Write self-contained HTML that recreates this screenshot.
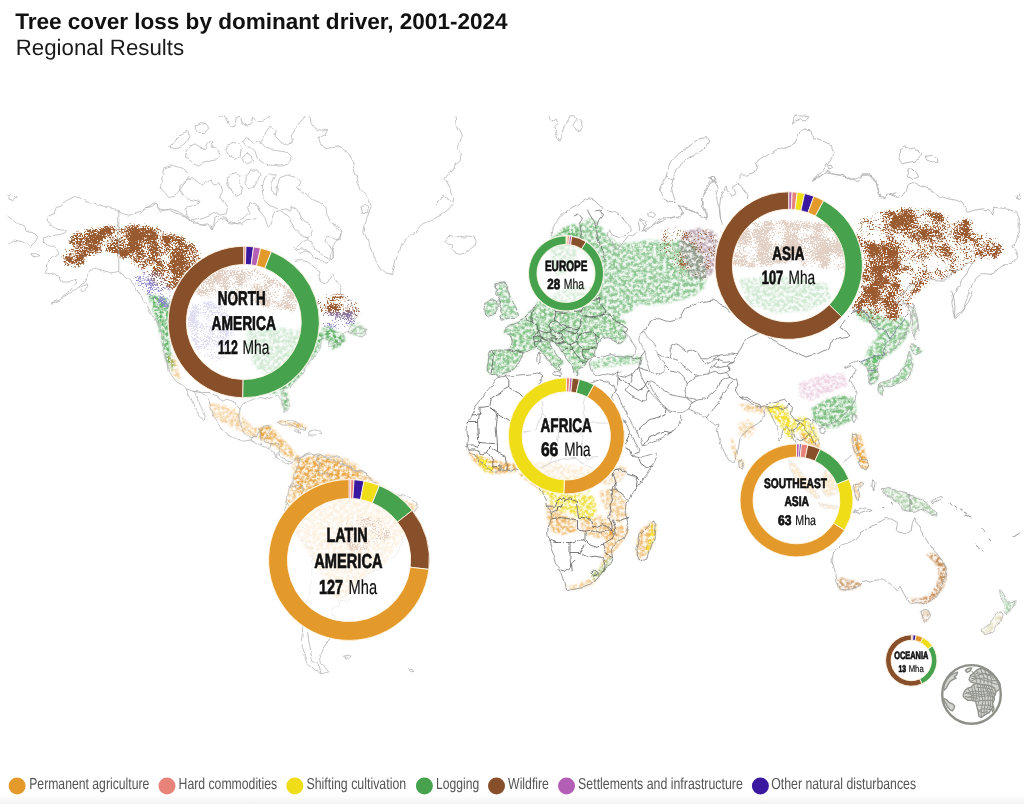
<!DOCTYPE html>
<html lang="en"><head><meta charset="utf-8"><title>Tree cover loss by dominant driver, 2001-2024</title>
<style>
html,body{margin:0;padding:0;background:#fff}
body{width:1024px;height:804px;overflow:hidden;position:relative;font-family:"Liberation Sans",sans-serif}
svg{position:absolute;left:0;top:0;display:block}
text{text-rendering:geometricPrecision}
text{font-family:"Liberation Sans",sans-serif}
</style></head><body>
<svg width="1024" height="804" viewBox="0 0 1024 804">
<defs>
<filter id="speck" x="0" y="0" width="1024" height="804" filterUnits="userSpaceOnUse" color-interpolation-filters="sRGB">
<feGaussianBlur in="SourceGraphic" stdDeviation="1.6" result="b"/>
<feTurbulence type="fractalNoise" baseFrequency="0.65" numOctaves="2" seed="7" result="t1"/>
<feTurbulence type="fractalNoise" baseFrequency="0.07" numOctaves="3" seed="3" result="t2"/>
<feComposite in="t1" in2="t2" operator="arithmetic" k1="0" k2="0.55" k3="0.45" k4="0" result="t"/>
<feColorMatrix in="t" type="matrix" values="0 0 0 0 0 0 0 0 0 0 0 0 0 0 0 3.6 0 0 0 -1.3" result="n"/>
<feComposite in="b" in2="n" operator="arithmetic" k1="0" k2="3" k3="3" k4="-3" result="m"/>
<feColorMatrix in="b" type="matrix" values="1 0 0 0 0 0 1 0 0 0 0 0 1 0 0 0 0 0 60 0" result="solid"/>
<feComposite in="solid" in2="m" operator="in"/>
</filter>
<filter id="mott" x="0" y="0" width="1024" height="804" filterUnits="userSpaceOnUse" color-interpolation-filters="sRGB">
<feGaussianBlur in="SourceGraphic" stdDeviation="1.3" result="b"/>
<feTurbulence type="fractalNoise" baseFrequency="0.3" numOctaves="3" seed="11" result="t"/>
<feColorMatrix in="t" type="matrix" values="0 0 0 0 1 0 0 0 0 1 0 0 0 0 1 3 0 0 0 -1" result="n"/>
<feComposite in="b" in2="n" operator="arithmetic" k1="1.5" k2="0.25" k3="0" k4="0"/>
</filter>
<filter id="wig" x="0" y="90" width="1024" height="640" filterUnits="userSpaceOnUse" color-interpolation-filters="sRGB">
<feTurbulence type="fractalNoise" baseFrequency="0.09" numOctaves="3" seed="5" result="w"/>
<feDisplacementMap in="SourceGraphic" in2="w" scale="4.5" xChannelSelector="R" yChannelSelector="G"/>
</filter>
<linearGradient id="bg" x1="0" y1="0" x2="0" y2="1"><stop offset="0" stop-color="#fff"/><stop offset="1" stop-color="#f3f3f3"/></linearGradient></defs>
<rect width="1024" height="804" fill="#fff"/>
<rect y="794" width="1024" height="10" fill="url(#bg)"/>

<g filter="url(#mott)">
<polygon points="148.1,294.6 157.2,295.4 169.2,299.4 173.1,315.3 169.2,331.2 170.3,351.1 175.1,367.1 171.9,371.0 165.2,359.1 161.2,339.2 157.2,321.3 151.2,307.4" fill="#5aae60" fill-opacity="0.55"/>
<polygon points="207.0,402.9 222.9,404.9 234.8,408.9 244.8,418.8 254.7,428.8 262.7,426.8 270.6,430.7 268.7,438.7 258.7,438.7 246.8,434.7 234.8,428.8 222.9,422.8 212.9,414.8" fill="#e8a13a" fill-opacity="0.27"/>
<polygon points="254.7,428.8 270.6,424.8 278.6,434.7 286.6,442.7 296.5,454.6 302.5,458.6 298.5,462.6 286.6,456.6 274.6,446.7 262.7,440.7" fill="#e8a13a" fill-opacity="0.42"/>
<polygon points="292.5,464.6 302.5,458.6 314.4,454.6 330.3,454.6 346.3,458.6 358.2,464.6 360.2,474.5 350.2,482.5 338.3,486.5 326.4,494.4 310.4,498.4 298.5,494.4 292.5,482.5" fill="#e8a13a" fill-opacity="0.30"/>
<polygon points="167.2,355.1 175.1,357.1 179.1,371.0 181.1,379.0 175.1,379.0 170.3,367.1" fill="#e8a13a" fill-opacity="0.30"/>
<polygon points="278.6,420.8 302.5,423.6 308.5,428.8 294.5,427.6 278.6,423.6" fill="#e8a13a" fill-opacity="0.45"/>
<polygon points="246.8,331.2 278.6,327.3 302.5,331.2 310.4,351.1 294.5,371.0 270.6,379.0 254.7,367.1 246.8,347.2" fill="#5aae60" fill-opacity="0.60"/>
<polygon points="569.5,235.7 579.4,223.8 591.3,217.8 599.3,223.8 607.3,235.7 619.2,243.7 635.1,241.7 651.0,239.7 667.0,241.7 682.9,239.7 694.8,243.7 702.8,255.6 706.8,271.5 704.8,287.5 694.8,295.4 682.9,299.4 667.0,303.4 651.0,305.4 639.1,303.4 631.1,311.3 619.2,317.3 607.3,315.3 603.3,303.4 601.3,287.5 597.3,271.5 587.4,259.6 577.4,247.7" fill="#5aae60" fill-opacity="0.38"/>
<polygon points="589.4,363.1 607.3,357.1 627.2,355.1 643.1,357.1 641.1,363.1 623.2,365.1 607.3,367.1 593.3,369.1" fill="#5aae60" fill-opacity="0.35"/>
<polygon points="549.6,239.7 563.5,227.8 575.4,223.8 579.4,239.7 575.4,259.6 565.5,273.5 555.5,275.5 551.5,259.6" fill="#5aae60" fill-opacity="0.50"/>
<polygon points="682.9,231.7 698.8,227.8 714.7,231.7 720.7,247.7 716.7,269.6 704.8,279.5 690.8,277.5 682.9,261.6 678.9,245.7" fill="#a88a9c" fill-opacity="0.42"/>
<polygon points="738.6,402.9 754.5,404.9 770.4,406.9 772.4,412.8 758.5,412.8 744.6,410.8" fill="#e8a13a" fill-opacity="0.30"/>
<polygon points="738.6,422.8 750.5,418.8 756.5,428.8 748.6,438.7 738.6,434.7" fill="#e8a13a" fill-opacity="0.22"/>
<polygon points="730.6,434.7 734.6,442.7 738.6,458.6 735.4,460.6 731.4,446.7" fill="#e8a13a" fill-opacity="0.30"/>
<polygon points="738.6,458.6 743.4,458.6 744.2,466.6 739.4,467.4" fill="#e8a13a" fill-opacity="0.30"/>
<polygon points="854.8,311.2 870.8,309.3 886.7,319.2 902.6,317.2 910.6,323.2 908.6,335.1 898.6,347.1 886.7,357.0 874.7,363.0 864.8,359.0 868.8,347.1 878.7,335.1 870.8,323.2 858.8,319.2" fill="#5aae60" fill-opacity="0.40"/>
<polygon points="811.1,408.8 827.0,398.8 842.9,394.8 854.8,398.8 856.8,410.7 850.9,420.7 838.9,426.7 825.0,428.7 815.0,422.7" fill="#5aae60" fill-opacity="0.45"/>
<polygon points="799.1,382.9 823.0,374.9 842.9,372.9 848.9,384.9 829.0,392.8 811.1,400.8 799.1,396.8" fill="#d79ac0" fill-opacity="0.25"/>
<polygon points="765.3,406.8 779.2,402.8 787.2,408.8 791.2,422.7 795.1,434.6 791.2,440.6 783.2,430.6 777.2,420.7 769.3,414.7" fill="#eedb2a" fill-opacity="0.60"/>
<polygon points="791.2,418.7 805.1,416.7 815.0,426.7 819.0,440.6 811.1,444.6 803.1,434.6 793.2,428.7" fill="#eedb2a" fill-opacity="0.50"/>
<polygon points="799.1,430.6 811.1,438.6 819.0,442.6 821.0,454.5 815.0,456.5 807.9,446.6 801.1,438.6" fill="#e8a13a" fill-opacity="0.40"/>
<polygon points="852.9,434.6 860.8,434.6 864.8,450.5 867.6,466.5 862.0,468.5 856.8,454.5" fill="#e8a13a" fill-opacity="0.45"/>
<polygon points="739.4,279.4 767.3,275.4 799.1,277.4 827.0,283.4 831.0,299.3 807.1,311.2 775.2,313.2 747.4,303.3" fill="#5aae60" fill-opacity="0.60"/>
<polygon points="467.9,451.7 479.8,455.7 491.7,459.7 503.7,461.7 515.6,463.7 517.6,471.6 505.7,473.6 491.7,473.6 481.8,467.7 473.8,461.7" fill="#e8a13a" fill-opacity="0.45"/>
<polygon points="475.0,455.7 483.8,457.7 491.7,463.7 493.7,473.6 485.8,472.4 479.0,465.7" fill="#eedb2a" fill-opacity="0.55"/>
<polygon points="547.5,493.5 563.4,491.5 579.3,493.5 593.2,495.5 597.2,507.5 593.2,519.4 579.3,519.4 571.3,513.4 559.4,511.4 551.4,505.5" fill="#eedb2a" fill-opacity="0.50"/>
<polygon points="545.5,503.5 559.4,511.4 575.3,519.4 577.3,531.3 563.4,535.3 551.4,531.3 547.5,519.4" fill="#e8a13a" fill-opacity="0.42"/>
<polygon points="579.3,519.4 599.2,515.4 611.1,519.4 615.1,531.3 607.2,539.3 595.2,537.3 583.3,533.3" fill="#e8a13a" fill-opacity="0.36"/>
<polygon points="599.2,491.5 615.1,487.6 625.1,499.5 627.1,515.4 619.1,523.4 611.1,517.4 603.2,505.5" fill="#e8a13a" fill-opacity="0.30"/>
<polygon points="607.2,531.3 623.1,523.4 629.1,531.3 621.1,543.3 611.1,555.2 603.2,559.2 605.2,547.3" fill="#e8a13a" fill-opacity="0.36"/>
<polygon points="597.2,471.6 615.1,463.7 627.1,467.7 623.1,479.6 609.2,485.6 599.2,483.6" fill="#e8a13a" fill-opacity="0.20"/>
<polygon points="639.0,531.3 650.9,521.4 656.9,525.4 654.9,537.3 649.0,551.2 641.0,559.2 635.8,553.2 637.0,541.3" fill="#e8a13a" fill-opacity="0.38"/>
<polygon points="650.1,523.4 656.9,525.4 654.9,537.3 649.0,551.2 645.0,553.2 649.0,537.3" fill="#eedb2a" fill-opacity="0.50"/>
<polygon points="563.4,587.1 575.3,590.2 591.2,585.1 601.2,575.1 609.2,563.2 611.9,553.2 607.2,553.2 599.2,567.2 589.3,579.1 575.3,585.1" fill="#e8a13a" fill-opacity="0.30"/>
<polygon points="591.2,575.1 601.2,567.2 609.2,557.2 611.9,559.2 603.2,573.1 594.4,581.1" fill="#5aae60" fill-opacity="0.30"/>
<polygon points="519.6,459.7 559.4,463.7 591.2,467.7 599.2,483.6 571.3,491.5 539.5,489.6 519.6,475.6" fill="#e8a13a" fill-opacity="0.40"/>
<polygon points="539.5,479.6 575.3,477.6 591.2,491.5 559.4,495.5 539.5,493.5" fill="#eedb2a" fill-opacity="0.40"/>
<polygon points="926.2,555.0 932.5,552.5 940.0,557.5 946.2,566.2 947.0,577.5 943.8,586.2 938.8,593.8 932.5,600.0 925.0,603.8 917.5,602.5 912.5,602.5 911.2,598.8 920.0,598.8 928.8,595.0 935.0,587.5 938.8,578.8 938.8,570.0 933.8,561.2" fill="#c48a52" fill-opacity="0.55"/>
<polygon points="837.0,580.0 841.2,577.5 850.0,580.0 860.0,581.2 861.2,586.2 852.5,589.5 843.8,590.5 838.0,588.8" fill="#c48a52" fill-opacity="0.45"/>
<polygon points="921.2,611.2 926.2,610.5 930.0,612.5 928.8,618.8 925.0,622.5 922.0,618.8" fill="#c48a52" fill-opacity="0.30"/>
<polygon points="882.5,488.8 888.8,487.5 895.0,490.0 901.2,492.5 907.5,493.8 913.8,496.2 920.0,498.8 926.2,502.5 931.2,507.5 936.2,512.5 937.5,516.2 931.2,515.0 925.0,511.2 920.0,508.8 915.0,511.2 908.8,511.2 902.5,510.0 900.0,505.0 895.0,501.2 890.0,497.5 885.0,493.8" fill="#9cc597" fill-opacity="0.45"/>
<polygon points="855.0,483.8 861.2,482.5 865.0,483.8 860.0,486.2 857.0,490.0 860.0,496.2 857.5,501.2 855.0,495.0 853.8,488.8" fill="#e8a13a" fill-opacity="0.35"/>
<polygon points="852.5,435.0 857.0,433.8 858.8,440.0 857.5,446.2 861.2,451.2 865.0,455.0 867.5,460.0 870.0,466.2 866.2,470.0 862.5,467.5 860.0,461.2 856.2,456.2 853.0,448.8 851.2,441.2" fill="#e8a13a" fill-opacity="0.35"/>
<polygon points="788.8,460.0 795.0,465.0 802.5,473.8 810.0,483.8 816.2,492.5 820.0,497.5 816.2,498.8 810.0,493.8 802.5,486.2 796.2,478.8 791.2,470.0" fill="#e8a13a" fill-opacity="0.75"/>
<polygon points="825.0,471.2 831.2,467.5 837.5,470.0 840.0,477.5 838.8,486.2 835.0,493.8 828.8,496.2 823.8,492.5 821.2,486.2 822.5,478.8" fill="#e8a13a" fill-opacity="0.75"/>
<polygon points="817.5,502.5 825.0,503.8 832.5,505.5 838.8,507.5 836.2,509.5 827.5,508.0 820.0,506.2" fill="#e8a13a" fill-opacity="0.60"/>
<polygon points="999.5,590.2 1002.4,593.1 1004.5,596.6 1006.6,600.1 1008.7,602.2 1012.2,601.5 1015.3,600.8 1014.3,604.3 1011.5,607.8 1009.4,611.3 1007.3,614.9 1005.2,613.4 1004.5,609.9 1005.2,606.4 1003.8,602.2 1002.4,598.0 1000.3,593.8" fill="#5aae60" fill-opacity="0.30"/>
<polygon points="1001.0,612.0 1003.1,614.1 1002.4,617.7 1000.3,621.2 997.4,624.7 994.6,628.2 992.5,631.0 989.7,633.1 986.2,634.5 983.4,633.8 982.0,631.0 984.1,628.2 987.6,625.4 991.1,622.6 993.9,619.1 996.0,615.6 998.1,612.7" fill="#d6cf98" fill-opacity="0.35"/>
<polygon points="300.0,458.0 330.0,457.0 360.0,470.0 395.0,495.0 417.0,506.0 405.0,535.0 385.0,562.0 362.0,580.0 345.0,598.0 335.0,600.0 325.0,580.0 312.0,560.0 300.0,540.0 288.0,520.0 286.0,500.0 295.0,475.0" fill="#e8a13a" fill-opacity="0.32"/>
<polygon points="270.0,395.0 282.0,391.0 290.0,386.0 296.0,380.0 302.0,374.0 305.0,367.0 310.0,361.0 315.0,355.0 319.0,349.0 321.0,342.0 324.0,337.0 318.0,330.0 300.0,335.0 290.0,350.0 280.0,370.0" fill="#5aae60" fill-opacity="0.55"/>
<polygon points="322.0,328.0 332.0,326.0 336.0,332.0 343.0,334.0 346.0,340.0 340.0,346.0 332.0,350.0 330.0,342.0 324.0,340.0" fill="#5aae60" fill-opacity="0.55"/>
<polygon points="349.0,324.0 360.0,323.0 366.0,330.0 362.0,337.0 352.0,335.0" fill="#5aae60" fill-opacity="0.30"/>
<polygon points="281.0,392.0 287.0,390.0 289.0,400.0 288.0,410.0 285.0,412.0 282.0,404.0" fill="#5aae60" fill-opacity="0.45"/>
<polygon points="909.2,352.5 911.8,357.5 913.0,363.8 911.8,370.0 909.2,376.2 904.2,380.0 899.2,383.0 893.0,385.0 888.0,386.2 884.2,387.5 880.5,386.2 878.0,385.0 880.0,383.0 885.5,381.2 891.8,379.5 896.8,376.2 900.5,371.2 904.2,366.2 906.8,360.0 908.0,355.0" fill="#5aae60" fill-opacity="0.40"/>
<polygon points="911.8,343.8 915.5,345.5 920.5,348.8 923.0,351.2 919.2,353.8 915.5,355.0 912.5,352.5 911.0,348.0" fill="#5aae60" fill-opacity="0.40"/>
<polygon points="878.5,386.2 881.8,387.5 883.5,391.2 881.8,394.5 879.2,393.0 878.0,389.5" fill="#5aae60" fill-opacity="0.35"/>
<polygon points="860.5,362.5 868.0,358.8 875.5,356.2 884.2,353.8 880.5,357.5 878.0,362.5 876.8,367.5 878.0,373.8 877.5,380.0 874.2,383.0 870.5,383.8 868.5,378.8 869.2,372.5 866.8,367.5 864.2,365.0" fill="#5aae60" fill-opacity="0.50"/>
<polygon points="913.0,305.0 915.5,311.2 917.5,318.8 918.0,326.2 916.0,332.5 914.2,338.8 913.0,331.2 912.5,322.5 912.0,313.8" fill="#5aae60" fill-opacity="0.25"/>
<polygon points="537.4,301.3 534.3,306.8 531.9,310.0 528.8,312.3 525.6,315.5 523.3,318.6 520.2,320.2 517.0,322.5 513.1,324.1 510.0,324.9 506.8,327.2 503.7,329.6 502.9,331.9 505.3,333.5 509.2,334.3 511.1,337.4 512.3,341.3 511.5,345.2 510.4,349.2 506.1,349.9 500.6,349.9 495.1,350.3 490.4,350.7 488.5,353.1 488.8,357.8 488.0,362.5 487.2,367.2 488.0,371.9 491.2,374.2 495.1,373.4 498.2,376.6 500.6,375.3 503.7,373.4 508.4,371.9 512.3,370.3 515.5,367.2 517.8,363.3 520.2,359.3 522.5,356.2 523.0,353.1 525.6,351.5 528.8,351.5 531.9,349.9 534.3,348.4 536.6,347.6 539.7,349.9 542.9,353.1 546.0,357.0 549.2,360.9 552.3,364.8 555.4,368.0 557.8,370.3 560.1,371.9 560.9,369.5 559.3,366.4 561.7,364.8 564.0,362.5 562.5,360.1 559.3,357.8 556.2,354.6 553.9,350.7 551.5,346.8 550.7,342.9 553.1,341.3 555.4,342.9 557.8,346.8 560.9,350.7 564.0,354.6 567.2,358.6 569.5,361.7 571.9,364.0 572.7,368.0 574.2,371.9 576.6,375.0 578.9,373.4 578.2,369.5 580.5,368.0 582.9,366.4 585.2,364.0 586.8,361.7 588.3,359.3 591.5,357.8 593.8,357.0 595.4,353.1 596.2,348.4 597.7,343.7 600.1,339.7 603.2,337.4 607.9,336.6 611.8,338.2 614.2,341.3 617.3,343.7 621.3,342.9 624.4,339.7 626.7,335.8 625.2,331.9 622.8,329.6 626.7,321.7 618.9,317.0 607.0,315.0 602.9,302.9 601.0,286.9 570.3,285.7 537.4,301.3" fill="#5aae60" fill-opacity="0.42"/>
<polygon points="495.1,284.1 499.0,282.5 503.7,281.8 507.6,285.7 506.8,290.4 509.2,295.1 512.3,299.8 514.7,305.3 517.0,310.0 518.6,314.7 515.5,317.0 510.0,317.8 505.3,319.4 501.3,320.2 499.8,317.0 503.7,314.7 500.6,311.5 501.3,307.6 499.0,303.7 499.8,299.0 496.6,295.1 497.4,290.4 495.1,287.2 495.1,284.1" fill="#5aae60" fill-opacity="0.38"/>
<polygon points="485.7,303.7 488.8,300.6 493.5,299.8 496.6,301.3 497.4,306.1 496.6,310.8 493.5,314.7 488.8,316.2 485.7,313.9 484.9,309.2 485.7,303.7" fill="#5aae60" fill-opacity="0.38"/>
</g>
<g filter="url(#speck)">
<polygon points="61.7,257.6 69.7,239.7 87.6,229.8 115.4,225.8 139.3,223.8 159.2,227.8 179.1,235.7 195.0,245.7 201.0,259.6 191.0,271.5 181.1,279.5 175.1,291.4 167.2,287.5 159.2,275.5 151.2,269.6 139.3,263.6 123.4,255.6 111.4,251.6 99.5,251.6 87.6,255.6 75.6,263.6 65.7,265.6" fill="#9a5a30" fill-opacity="0.59"/>
<polygon points="316.4,299.4 330.3,293.4 346.3,295.4 358.2,303.4 360.2,315.3 350.2,321.3 334.3,319.3 320.4,315.3" fill="#9a5a30" fill-opacity="0.45"/>
<polygon points="131.3,271.5 159.2,271.5 175.1,295.4 171.1,311.3 151.2,299.4 135.3,283.5" fill="#8f86cf" fill-opacity="0.49"/>
<polygon points="318.4,313.3 354.2,311.3 356.2,325.3 330.3,329.3 318.4,325.3" fill="#8f86cf" fill-opacity="0.54"/>
<polygon points="187.1,271.5 222.9,265.6 258.7,269.6 286.6,283.5 302.5,299.4 294.5,311.3 262.7,307.4 230.8,299.4 199.0,295.4 183.1,287.5" fill="#9a5a30" fill-opacity="0.65"/>
<polygon points="191.0,299.4 222.9,303.4 238.8,331.2 222.9,363.1 199.0,355.1 187.1,327.3" fill="#8f86cf" fill-opacity="0.58"/>
<polygon points="659.0,229.8 682.9,227.8 714.7,231.7 718.7,259.6 698.8,279.5 674.9,271.5 659.0,251.6" fill="#9a5a30" fill-opacity="0.29"/>
<polygon points="862.8,239.6 882.7,245.6 898.6,255.5 902.6,275.4 898.6,291.3 886.7,303.3 870.8,307.3 858.8,299.3 862.8,279.4 864.8,259.5" fill="#9a5a30" fill-opacity="0.71"/>
<polygon points="858.8,219.7 878.7,211.7 902.6,207.8 926.5,209.8 950.4,215.7 970.3,219.7 982.2,227.7 998.1,239.6 1006.1,251.5 994.1,259.5 974.2,261.5 962.3,271.4 942.4,279.4 926.5,283.4 914.5,295.3 910.6,311.2 898.6,319.2 878.7,323.2 862.8,319.2 850.9,311.2 856.8,295.3" fill="#9a5a30" fill-opacity="0.48"/>
<polygon points="878.7,211.7 902.6,207.8 926.5,209.8 950.4,215.7 962.3,227.7 958.3,239.6 934.4,243.6 910.6,239.6 886.7,231.6" fill="#9a5a30" fill-opacity="0.45"/>
<polygon points="723.5,227.7 755.3,219.7 791.2,219.7 831.0,223.7 858.8,235.6 862.8,259.5 846.9,271.4 815.0,267.5 783.2,263.5 751.4,267.5 727.5,263.5 719.5,243.6" fill="#9a5a30" fill-opacity="0.75"/>
<polygon points="340.0,520.0 375.0,515.0 395.0,530.0 380.0,550.0 350.0,552.0" fill="#9a5a30" fill-opacity="0.34"/>
<polygon points="62.5,245.0 75.0,232.5 100.0,226.2 130.0,223.8 160.0,230.0 190.0,240.0 200.0,252.5 200.0,270.0 190.0,282.5 175.0,287.5 160.0,287.5 150.0,277.5 140.0,267.5 125.0,260.0 117.5,255.0 105.0,252.5 95.0,255.0 82.5,265.0 72.5,270.0 63.8,265.0" fill="#9a5a30" fill-opacity="0.43"/>
</g>
<g fill="none" stroke-width=".8" stroke-linejoin="round" stroke-linecap="round" filter="url(#wig)">
<path stroke="#b6b6b6" d="M118.8 211.2L113.8 208.8L107.5 207.5L100.0 205.0L92.5 202.5L86.2 202.0L80.0 198.0L75.0 196.2L70.0 198.8L65.5 201.2L61.2 206.2L56.2 207.5L53.8 213.8L47.5 216.2L47.0 220.0L50.0 223.8L53.8 227.5L60.0 230.0L66.2 230.0L65.5 232.5L60.0 234.5L53.8 235.5L48.8 235.5L43.0 239.5L45.0 243.8L50.0 246.2L55.0 246.2L58.8 250.0L60.0 253.8L56.2 256.2L51.2 257.5L48.0 262.5L47.5 268.8L45.0 273.8L48.8 275.0L53.8 273.8L58.8 275.0L61.2 280.0L62.5 283.0L68.8 283.0L75.0 280.0L76.2 283.0L72.5 287.5L68.8 292.5L63.8 296.2L58.8 298.8L53.8 301.2L51.2 303.0L53.8 302.5L61.2 298.8L68.8 294.2L75.0 290.0L80.0 286.2L83.8 282.5L87.5 276.2L91.2 270.0L95.0 268.0L98.8 270.0L105.0 272.0L111.2 273.8L118.8 272.5L125.0 276.2L130.0 280.0L133.8 285.0L137.5 290.0L141.2 296.2L143.8 302.5L147.5 306.2L150.0 311.2L153.8 317.5L156.2 321.2L158.8 326.2L161.2 332.5L163.0 340.0L164.5 347.5L165.5 355.0L167.0 362.5L168.0 371.0M118.8 211.2L125.0 215.0L130.0 216.2L136.2 212.5L142.5 210.0L148.8 207.5L153.8 203.8L157.5 206.2L160.0 211.2L165.0 210.0L170.0 209.5L175.0 212.5L180.0 214.5L186.2 216.2L191.2 220.0L197.5 223.8L203.8 225.5L210.0 224.5L212.5 230.0L215.0 223.8L218.8 220.0L225.0 218.8L230.0 221.2L236.2 223.8L241.2 223.8L246.2 220.0L251.2 218.8L256.0 217.5M8.8 216.2L13.8 220.0L18.8 223.8L23.8 226.2L25.0 231.2L32.5 232.5L37.5 237.5L33.8 242.5L30.0 247.5L26.2 243.8L21.2 241.2L15.0 240.0L11.2 242.5L8.8 243.8M8.8 195.0L12.5 193.8L16.2 197.0L12.5 200.0L9.2 199.5L8.8 195.0M31.2 253.8L36.2 253.8L40.0 255.5L36.2 257.0L32.0 255.8L31.2 253.8M80.0 287.5L86.2 283.8L88.0 286.2L82.5 292.0L80.0 287.5M140.0 213.8L145.0 208.8L151.2 207.5L155.0 203.8L158.8 208.8L165.0 210.0L171.2 208.8L177.5 211.2L183.8 215.0L190.0 220.0L193.8 223.8L201.2 225.0L207.5 223.8L211.2 230.0L213.8 223.8L215.0 218.8L220.0 216.2L226.2 217.5L228.8 222.5L236.2 223.8L240.0 220.0L245.0 217.5L250.0 212.5L247.5 207.5L251.2 202.5L256.2 205.0L260.0 212.5L265.0 218.8L267.5 225.0L270.0 227.5L272.5 220.0L275.0 212.5L280.0 210.0L286.2 208.8L290.0 211.2L292.5 206.2L297.5 210.0L300.0 217.5L303.8 222.5L310.0 225.0L312.5 230.0L310.0 236.2L305.0 240.0L300.0 243.8L296.2 247.5L300.0 252.5L305.0 250.0L310.0 251.2M180.0 185.0L186.2 180.0L192.5 177.5L196.2 182.5L202.5 186.2L206.2 182.5L211.2 180.0L215.0 185.0L220.0 183.8L222.5 190.0L220.0 197.5L223.8 202.5L227.5 207.5L226.2 213.8L220.0 215.0L215.0 212.5L210.0 215.0L203.8 217.5L197.5 218.8L191.2 220.0L186.2 215.0L185.0 208.8L191.2 206.2L197.5 205.0L200.0 201.2L193.8 200.0L187.5 198.8L182.5 195.0L180.0 190.0L180.0 185.0M165.0 167.5L172.5 165.5L180.0 167.5L186.2 171.2L190.0 175.0L186.2 180.0L182.5 185.0L178.8 191.2L175.0 196.2L168.8 197.5L165.0 192.5L161.2 188.8L162.5 180.0L163.8 173.8L165.0 167.5M170.0 146.2L175.0 140.0L181.2 133.8L187.5 131.2L190.0 136.2L187.5 141.2L183.8 145.0L178.8 148.8L173.8 150.0L170.0 146.2M185.0 153.8L188.8 146.2L193.8 143.8L200.0 147.5L206.2 150.0L207.5 143.8L211.2 141.2L212.5 147.5L217.5 148.8L220.0 153.8L216.2 158.8L210.0 160.0L203.8 162.5L198.8 166.2L193.8 163.8L190.0 160.0L186.2 158.8L185.0 153.8M196.2 125.0L201.2 122.5L206.2 123.8L207.5 128.8L203.8 132.5L198.8 132.5L196.2 128.8L196.2 125.0M226.2 150.0L227.5 143.8L233.8 142.5L238.8 143.8L241.2 150.0L240.0 157.5L236.2 160.0L232.5 156.2L227.5 153.8L226.2 150.0M243.8 156.2L247.5 152.5L251.2 155.0L252.5 161.2L247.5 163.8L243.8 161.2L243.8 156.2M242.5 141.2L245.0 137.5L250.0 138.8L253.8 142.5L257.5 141.2L262.5 143.8L265.0 147.5L271.2 150.0L280.0 151.2L287.5 152.5L291.2 156.2L290.0 162.5L283.8 164.5L276.2 165.5L268.8 165.0L262.5 162.5L257.5 158.8L255.0 151.2L251.2 147.5L246.2 146.2L242.5 141.2M260.0 143.8L263.8 137.5L266.2 131.2L270.0 126.2L276.2 130.0L275.0 136.2L280.0 141.2L287.5 145.0L292.5 141.2L291.2 135.0L295.0 128.8L300.0 122.5L305.0 116.2M220.0 117.5L225.0 116.2L227.5 121.2L231.2 126.2L235.0 125.0L236.2 117.5L240.0 116.2L242.5 122.5L247.5 126.2L251.2 123.8L252.5 117.5L257.5 121.2L263.8 120.0L268.8 116.2M226.2 181.2L230.0 175.0L236.2 172.5L240.0 175.0L238.8 181.2L242.5 186.2L241.2 193.8L236.2 196.2L231.2 191.2L227.5 186.2L226.2 181.2M246.2 175.0L251.2 170.0L257.5 170.0L260.0 175.0L257.5 181.2L253.8 187.5L248.8 190.0L246.2 183.8L246.2 175.0M262.5 185.0L265.0 177.5L270.0 173.8L276.2 173.8L272.5 182.5L271.2 190.0L276.2 195.0L277.5 186.2L280.0 177.5L287.5 175.0L295.0 177.5L300.0 182.5L296.2 187.5L302.5 191.2L307.5 195.0L312.5 200.0L318.8 202.5L325.0 207.5L326.2 215.0L330.0 222.5L336.2 227.5L341.2 232.5L340.0 240.0L333.8 238.8L327.5 235.0L323.8 240.0L328.8 246.2L332.5 252.5L333.8 260.0L327.5 257.5L320.0 253.8L315.0 250.0L312.5 243.8L307.5 240.0L302.5 236.2L296.2 230.0L291.2 222.5L287.5 216.2L281.2 211.2L275.0 207.5L268.8 205.0L263.8 200.0L262.5 192.5L262.5 185.0M310.0 116.2L311.2 123.8L316.2 130.0L322.5 131.2L327.5 130.0L325.0 135.0L318.8 137.5L320.0 143.8L326.2 147.5L335.0 146.2L342.5 148.8L348.8 155.0L352.5 162.5L355.0 171.2L357.5 180.0M357.5 180.0L358.0 183.8L360.0 190.0L365.0 193.8L368.8 198.8L371.2 207.5L367.5 216.2L365.0 225.0L363.8 232.5L367.5 240.0L370.0 247.5L372.5 255.0L376.2 262.5L380.0 268.8L386.2 272.5L391.2 274.2L393.8 270.0L395.5 262.5L397.5 255.0L400.0 246.2L405.0 240.0L410.0 236.2L416.2 231.2L421.2 225.0L426.2 221.2L433.8 218.8L441.2 215.0L447.5 210.0L452.5 205.0L453.8 197.5L451.2 191.2L447.5 185.0L443.8 178.8L447.5 173.8L452.5 170.0L455.0 165.0L460.0 161.2L461.2 153.8L457.5 148.8L460.0 142.5L462.5 136.2L460.0 130.0L456.2 125.0L455.0 116.2M361.2 206.2L365.0 203.8L368.8 207.5L367.5 212.5L362.5 212.5L361.2 206.2M435.0 205.0L440.0 200.0L443.8 196.2L447.5 198.8L450.0 202.5M445.0 241.2L448.8 236.2L453.8 237.5L458.8 236.2L463.8 237.0L468.8 235.0L473.8 236.2L476.2 241.2L475.0 246.2L470.0 250.0L465.0 252.5L460.0 254.5L455.0 253.0L452.0 249.5L452.5 245.0L447.5 243.8L445.0 241.2M548.8 116.2L552.5 121.2L556.2 118.8L557.5 123.8L553.8 127.5L556.2 133.8L560.0 141.2L562.5 135.0L565.0 127.5L567.5 121.2L570.0 116.2L573.8 115.5L576.2 120.0L573.8 125.0L576.2 130.0L580.0 132.5L582.5 127.5L581.2 122.5L577.5 118.8M330.0 222.5L336.2 225.0L341.2 230.0L340.0 236.2L335.0 242.5L331.2 250.0L330.0 260.0M165.0 355.0L167.5 365.0L170.0 372.5L173.8 378.8L177.5 382.5L182.5 385.0L186.2 388.8L188.8 395.0L192.5 402.5L196.2 410.0L200.0 416.2L205.0 420.0L206.2 416.2L202.5 410.0L198.8 402.5L195.5 395.0L193.8 391.2L201.2 392.5L207.5 398.8L210.0 407.5L213.8 416.2L218.8 423.8L222.5 430.0L228.8 435.0L236.2 438.8L243.8 441.2L250.0 440.0L256.2 443.8L262.5 446.2L268.8 447.5L273.8 452.5L276.2 457.5L281.2 460.0L286.2 463.8L291.2 462.5L295.0 460.0L300.0 460.0L297.5 467.5L295.0 475.0L293.8 482.5L290.0 486.2L287.5 492.5L286.2 500.0L288.8 505.0M366.2 330.0L362.5 332.5L355.0 333.8L347.5 331.2L342.5 333.8L345.5 337.5L342.5 340.0L335.0 345.0L328.8 347.5L330.0 341.2L323.8 337.5L321.2 342.5L318.8 348.8L315.0 355.0L310.0 361.2L305.0 367.5L302.5 373.8L296.2 380.0L290.0 386.2L282.5 391.2L285.0 395.0L287.5 400.0L289.2 405.0L287.5 410.0L285.0 412.5L282.5 405.0L281.2 398.8L277.5 395.0L272.5 397.5L266.2 398.8L260.0 397.5L253.8 398.8L247.5 401.2L242.5 405.0L240.0 410.0L238.8 416.2L240.0 423.8L242.5 430.0L245.0 435.0L250.0 437.5L256.2 436.2L260.0 430.0L262.5 426.2L268.8 425.0L270.0 430.0L266.2 436.2L263.8 441.2L266.2 442.5L272.5 442.5L278.8 443.8L280.0 450.0L278.8 455.0L282.5 457.5L287.5 460.0L292.5 461.2L296.2 458.8L300.0 457.5L305.0 453.8L310.0 452.5L313.8 455.0L317.5 453.8L322.5 455.0L327.5 456.2L333.8 456.2L338.8 457.5L342.5 460.0L343.8 465.0L347.5 466.2L352.5 470.0L357.5 471.2L362.5 472.5L367.5 475.0L371.2 477.5M277.5 422.5L282.5 420.5L288.8 420.5L295.0 422.5L301.2 425.5L305.0 428.8L300.0 429.5L295.0 427.5L288.8 425.0L282.5 425.0L277.5 422.5M308.8 431.2L313.8 430.0L318.8 430.5L322.0 433.0L317.5 435.0L312.5 435.0L308.8 433.8L308.8 431.2M295.0 431.2L298.0 430.8L300.0 432.5L297.0 433.2L295.0 431.2M301.2 457.5L305.0 455.0L311.2 453.8L316.2 456.2L321.2 455.0L327.5 457.5L332.5 458.8L337.5 462.5L341.2 465.0L346.2 465.0L351.2 468.8L355.0 471.2L360.0 471.2L366.2 473.8L370.0 477.5L372.5 481.2L377.5 485.0L383.8 488.8L390.0 491.2L395.0 493.8L400.0 495.5L405.0 496.2L410.0 497.5L415.0 501.2L417.0 506.2L415.0 510.0L411.2 513.8L408.8 520.0L406.2 527.5L405.0 535.0L402.5 542.5L398.8 550.0L393.8 556.2L387.5 560.0L382.5 565.0L378.8 570.0L375.0 570.0L367.5 575.0L360.0 581.2L356.2 587.5L353.8 595.0L347.5 601.2L340.0 600.0L338.8 606.2L332.5 607.5L331.2 613.8L335.0 616.2M286.0 501.0L284.0 510.0L290.0 522.0L298.0 535.0L306.0 545.0L312.0 552.0L313.0 565.0L312.5 580.0L309.0 590.0L307.5 597.5L305.0 610.0L303.0 622.0L302.5 632.5M335.0 616.0L333.0 628.0L330.0 640.0M302.5 632.5L301.2 640.0L302.5 647.5L305.0 655.0L307.5 661.2L310.0 666.2L315.0 671.2L321.2 673.8L328.8 672.0L325.0 667.5L321.2 661.2L320.0 655.0L322.5 648.8L326.2 643.8L330.0 640.0M343.8 656.2L347.5 655.0L351.2 656.2L348.8 658.2L344.5 658.0L343.8 656.2M408.8 668.8L412.0 668.2L414.0 670.5L410.5 670.8L408.8 668.8M295.0 261.2L301.2 260.6L307.5 261.9L312.5 265.6L316.9 269.4L320.0 271.2L319.0 276.2L320.0 281.2L323.8 283.8L327.5 282.5L330.0 277.5L332.5 273.8L334.4 276.9L336.9 281.2L339.4 285.6L341.2 290.0L341.9 293.8L345.0 297.5L348.8 300.6L352.5 303.1L356.2 307.5L358.1 312.5L357.5 317.5L355.0 320.0L352.5 323.8L350.0 327.5L348.1 332.5L351.2 333.8L355.0 327.5L357.5 325.6L361.2 327.5L365.0 330.6L366.2 335.0L362.5 336.9L358.8 336.2M295.0 246.2L297.5 248.8L302.5 248.1L307.5 248.8L310.0 252.5L313.1 256.2L316.2 259.4L321.2 260.6L326.2 263.1L328.8 261.9L331.2 260.0L333.1 257.5L333.8 253.8L331.9 250.0L330.0 246.2L327.5 242.5L326.2 240.0"/>
<path stroke="#b0b0b0" d="M118.8 211.2L118.8 272.5M186.2 388.8L193.8 391.2L202.5 392.5L210.0 392.5L216.2 396.2L222.5 401.2L227.5 398.8L232.5 401.2L237.5 407.5L240.0 410.0M250.0 440.0L252.5 436.2L256.2 436.2M260.0 430.0L260.5 437.5L262.5 446.2M268.8 447.5L270.0 442.5L272.5 442.5M276.2 457.5L277.5 452.5L280.0 450.0M300.0 460.0L302.5 456.2L305.0 453.8M318.8 455.0L316.2 460.0L320.0 465.0L317.5 470.0L322.5 473.8L327.5 472.5L330.0 477.5M290.0 486.2L296.2 485.0L302.5 487.5L305.0 492.5M307.5 632.5L308.8 640.0L310.0 647.5L311.2 655.0L312.5 660.0L317.5 662.5L321.2 673.8M999.5 590.2L1002.4 593.1L1004.5 596.6L1006.6 600.1L1008.7 602.2L1012.2 601.5L1015.3 600.8L1014.3 604.3L1011.5 607.8L1009.4 611.3L1007.3 614.9L1005.2 613.4L1004.5 609.9L1005.2 606.4L1003.8 602.2L1002.4 598.0L1000.3 593.8L999.5 590.2M1001.0 612.0L1003.1 614.1L1002.4 617.7L1000.3 621.2L997.4 624.7L994.6 628.2L992.5 631.0L989.7 633.1L986.2 634.5L983.4 633.8L982.0 631.0L984.1 628.2L987.6 625.4L991.1 622.6L993.9 619.1L996.0 615.6L998.1 612.7L1001.0 612.0"/>
<path stroke="#acacac" d="M640.0 220.0L643.8 225.0L642.5 230.0L648.8 227.5L655.0 223.8L662.5 220.0L670.0 217.5L677.5 216.2L683.8 213.8L681.2 207.5L678.8 205.0L685.0 207.5L692.5 211.2L700.0 215.0L706.2 218.8L707.5 213.8L703.8 207.5L701.2 200.0L703.8 192.5L707.5 185.0L711.2 181.2L715.0 182.5L718.0 187.5L716.2 195.0L717.5 202.5L719.5 210.0L720.5 217.5L722.5 225.0M720.5 217.5L719.5 207.5L720.5 198.8L723.8 191.2L726.2 185.0L727.5 191.2L731.2 196.2L735.0 193.8L732.5 187.5L737.5 183.8L741.2 186.2L745.0 191.2L748.0 195.0L747.5 198.8M740.0 180.0L740.0 175.0L747.5 175.0L755.0 172.5L757.5 167.5L755.0 163.8L760.0 160.0L767.5 155.0L775.0 150.0L782.5 148.8L790.0 146.2L795.0 143.8L797.5 137.5L800.0 131.2L805.0 128.8L811.2 131.2L812.5 137.5L817.5 138.8L825.0 141.2L831.2 146.2L833.8 153.8L830.0 161.2L826.2 166.2L822.5 171.2L817.5 176.2L812.5 180.5L818.8 177.5L825.0 172.5L831.2 173.8L837.5 175.0L845.0 176.2L851.2 180.0L857.5 182.5L862.5 175.0L868.8 175.0L875.0 178.8L877.5 186.2L880.0 193.8L883.8 198.8L887.5 193.8L892.5 195.0L896.0 193.8M792.5 123.8L796.2 121.2L801.2 118.8L806.2 120.0L810.0 116.2L805.0 115.0L795.0 115.0L792.5 123.8M827.5 166.2L831.2 165.0L832.5 168.8L828.8 170.0L827.5 166.2M710.0 178.0L713.0 176.2L714.5 179.5L711.2 180.5L710.0 178.0M813.0 180.0L820.5 176.2L826.8 171.2L833.0 173.8L840.5 175.0L848.0 177.5L855.5 180.0L861.8 175.0L868.0 175.0L874.2 178.8L876.8 186.2L879.2 193.8L883.0 198.8L886.8 193.8L891.8 195.0L896.8 197.5L901.8 196.2L905.5 191.2L906.8 185.0L913.0 182.5L920.5 186.2L928.0 188.8L934.2 191.2L940.5 196.2L948.0 198.8L955.5 200.0L961.8 202.5L965.5 208.8L968.0 212.5L975.5 210.0L983.0 208.8L989.2 210.0L991.8 215.0L994.2 207.5L1001.8 208.0L1009.2 209.5L1015.5 212.5L1019.2 217.5L1019.2 226.2L1019.2 235.0L1016.8 242.5L1011.8 246.2L1015.5 251.2L1018.0 257.5L1014.2 261.2L1008.0 263.8L1001.8 266.2L996.8 270.0L993.0 275.0L988.0 273.8L981.8 273.8L976.8 277.5L973.0 282.5L970.5 288.8L968.0 296.2L965.5 302.5L963.0 310.0L959.2 315.0L955.0 318.8L953.0 310.0L951.8 302.5L954.2 293.8L958.0 286.2L961.8 280.0L965.5 275.0L969.2 268.8L973.0 263.8L969.2 262.5L964.2 266.2L958.0 268.8L953.0 272.5L949.2 277.5L944.2 280.0L938.0 280.0L930.5 278.8L923.0 280.0L916.8 282.5L910.5 286.2L905.5 291.2L900.5 296.2L896.8 302.5L900.5 305.0L906.8 305.0L911.8 308.8L915.5 316.2L918.0 323.8L919.2 331.0M899.2 151.2L904.2 147.0L910.5 148.8L914.2 148.0L918.0 150.0L921.8 153.8L919.2 158.8L914.2 161.2L908.0 162.5L903.0 163.8L900.0 158.8L899.2 151.2M925.5 156.2L931.8 155.5L937.5 158.8L938.0 162.0L933.0 163.0L928.0 161.2L925.5 156.2M908.0 170.0L911.8 168.8L915.5 172.5L917.5 177.0L913.0 178.8L908.5 177.0L908.0 170.0M1016.2 196.2L1019.2 194.5L1020.0 198.0L1017.0 200.5L1016.2 196.2"/>
<path stroke="#a8a8a8" d="M550.0 236.2L552.5 230.0L556.2 222.5L560.0 217.5L565.0 212.5L570.0 208.8L576.2 205.0L582.5 201.2L588.8 198.8L595.0 200.0L600.0 205.0L603.8 210.0L608.8 211.2L615.0 212.5L621.2 216.2L626.2 221.2L630.0 226.2L630.0 231.2L625.0 236.2L618.8 237.5L612.5 235.0L608.8 230.0L607.5 235.0L610.0 240.0L613.8 245.0L617.5 250.0L620.0 246.2L625.0 241.2L628.8 236.2L635.0 235.0L638.8 230.0L637.5 222.5L640.0 218.8L646.2 221.2L643.8 227.5L641.2 231.2L647.5 230.0L652.5 225.0L657.5 220.0L662.5 217.5L668.8 218.8L675.0 216.2L680.0 217.5L682.5 212.5L680.0 206.2L683.8 207.5L688.8 210.0L693.8 212.5L698.8 215.0L703.8 217.5L707.5 217.5L705.0 211.2L701.2 205.0L702.5 197.5L706.2 190.0L710.0 183.8L713.8 181.2L716.0 182.5M658.8 191.2L662.5 183.8L666.2 176.2L668.8 167.5L672.5 160.0L678.8 153.8L685.0 148.8L692.5 143.8L700.0 138.8L706.2 137.5L708.8 141.2L705.0 147.5L697.5 152.5L690.0 157.5L683.8 162.5L677.5 168.8L673.8 176.2L671.2 185.0L672.5 193.8L676.2 202.5L670.0 202.5L663.8 198.8L658.8 191.2M666.2 176.2L672.5 178.8M648.8 213.8L652.5 211.8L655.5 215.0L652.5 218.0L649.2 217.0L648.8 213.8M710.0 177.5L713.0 176.2L715.0 179.5L712.0 181.5L710.0 177.5M495.0 286.2L498.8 283.8L503.8 282.5L506.2 286.2L508.8 292.5L510.0 297.5L508.8 301.0M495.0 286.2L497.5 292.5L500.0 297.5L497.5 301.0M903.0 301.2L908.0 307.5L911.8 315.0L910.5 322.5L906.8 330.0L903.0 337.5L898.0 343.8L893.0 348.8L888.0 352.5L884.2 353.8L880.5 357.5L878.0 362.5L876.8 367.5L878.0 373.8L877.5 380.0L874.2 383.0L870.5 383.8L868.5 378.8L869.2 372.5L866.8 367.5L864.2 365.0L860.5 362.5L856.8 361.2L853.0 362.5L848.0 365.0L844.2 367.5M913.0 305.0L915.5 311.2L917.5 318.8L918.0 326.2L916.0 332.5L914.2 338.8L913.0 331.2L912.5 322.5L912.0 313.8L913.0 305.0M911.8 343.8L915.5 345.5L920.5 348.8L923.0 351.2L919.2 353.8L915.5 355.0L912.5 352.5L911.0 348.0L911.8 343.8M909.2 352.5L911.8 357.5L913.0 363.8L911.8 370.0L909.2 376.2L904.2 380.0L899.2 383.0L893.0 385.0L888.0 386.2L884.2 387.5L880.5 386.2L878.0 385.0L880.0 383.0L885.5 381.2L891.8 379.5L896.8 376.2L900.5 371.2L904.2 366.2L906.8 360.0L908.0 355.0L909.2 352.5M878.5 386.2L881.8 387.5L883.5 391.2L881.8 394.5L879.2 393.0L878.0 389.5L878.5 386.2M951.8 291.2L954.2 300.0L955.0 308.8L954.2 317.5L958.0 313.8L963.0 308.8L968.0 302.5L971.8 296.2L973.0 291.2M843.0 462.5L846.8 458.8L850.5 455.0"/>
<path stroke="#a4a4a4" d="M833.8 551.2L840.0 546.2L847.5 542.5L855.0 540.0L860.0 533.8L866.2 530.0L872.5 526.2L878.8 522.5L885.0 518.8L891.2 518.8L897.5 522.5L896.2 528.8L900.0 532.5L906.2 535.0L911.2 530.0L912.5 522.5L915.0 517.5L917.5 523.8L921.2 531.2L925.0 537.5L928.8 543.8L933.8 550.0L938.8 556.2L943.8 562.5L946.2 570.0L945.0 577.5L942.5 585.0L938.8 591.2L935.0 597.5L930.0 601.2L923.8 603.8L917.5 602.5L912.5 603.8L907.5 600.0L903.8 593.8L900.0 586.2L897.5 590.0L893.8 586.2L890.0 582.5L883.8 580.0L876.2 580.0L868.8 581.2L862.5 582.5L858.8 586.2L852.5 588.8L845.0 590.0L838.8 588.8L837.0 582.5L836.2 575.0L833.8 567.5L832.0 560.0L833.8 551.2M921.2 611.2L926.2 610.5L930.0 612.5L928.8 618.8L925.0 622.5L922.0 618.8L921.2 611.2M882.5 488.8L888.8 487.5L895.0 490.0L901.2 492.5L907.5 493.8L913.8 496.2L920.0 498.8L926.2 502.5L931.2 507.5L936.2 512.5L937.5 516.2L931.2 515.0L925.0 511.2L920.0 508.8L915.0 511.2L908.8 511.2L902.5 510.0L900.0 505.0L895.0 501.2L890.0 497.5L885.0 493.8L882.5 488.8M932.5 502.5L938.8 500.0L942.5 496.2L940.0 495.0L936.2 498.0L931.2 501.2L932.5 502.5M855.0 483.8L861.2 482.5L865.0 483.8L860.0 486.2L857.0 490.0L860.0 496.2L857.5 501.2L855.0 495.0L853.8 488.8L855.0 483.8M872.5 480.0L875.0 483.8L873.8 490.0L872.0 486.2L872.5 480.0M853.8 511.2L860.0 509.5L866.2 508.0L871.2 509.5L865.0 512.0L860.0 513.8L853.8 511.2M788.8 460.0L795.0 465.0L802.5 473.8L810.0 483.8L816.2 492.5L820.0 497.5L816.2 498.8L810.0 493.8L802.5 486.2L796.2 478.8L791.2 470.0L788.8 460.0M825.0 471.2L831.2 467.5L837.5 470.0L840.0 477.5L838.8 486.2L835.0 493.8L828.8 496.2L823.8 492.5L821.2 486.2L822.5 478.8L825.0 471.2M817.5 502.5L825.0 503.8L832.5 505.5L838.8 507.5L836.2 509.5L827.5 508.0L820.0 506.2L817.5 502.5"/>
<path stroke="#a0a0a0" d="M643.8 331.2L647.5 337.5L652.5 341.2L656.2 346.2L657.5 353.8L660.0 360.0L665.0 365.0L663.8 371.2L657.5 373.8L651.2 371.2L648.8 365.0L646.2 358.8L645.0 351.2L641.2 346.2L638.8 340.0L640.0 335.0L643.8 331.2M622.8 329.5L627.5 333.8L631.2 340.0L634.5 346.2L635.5 352.5L632.5 357.0L630.0 357.8M688.8 408.8L682.5 412.5L673.8 412.5L668.8 410.0L662.5 405.0L657.5 400.0L652.5 395.0L648.8 390.0M688.8 408.8L695.0 412.5L702.5 413.8L707.5 417.5L711.2 422.5L715.0 426.2L718.8 425.0L717.5 430.0L718.8 437.5L721.2 445.0L724.5 452.5L727.5 458.8L731.2 462.5L735.0 460.0L737.5 452.5L738.8 445.0L740.0 437.5L745.0 432.5L751.2 427.5L757.5 423.8L762.5 420.0L765.0 415.0L763.8 410.0L766.2 406.2L770.0 412.5L773.0 418.8L776.2 425.0L778.8 432.5L780.0 440.0L782.5 437.5L783.8 430.0L786.2 425.0L790.0 430.0L792.5 437.5L795.0 442.5M866.2 360.0L870.0 365.0L872.5 372.5L870.0 380.0L871.2 385.0M845.0 367.5L851.2 365.0L856.2 370.0L853.8 376.2L850.0 380.0L853.8 386.2L856.2 392.5L855.0 400.0L851.2 407.5L846.2 413.8L840.0 418.8L833.8 422.5L827.5 425.0L821.2 426.2L817.5 423.8L813.8 420.0L810.0 425.0L812.5 431.2L816.2 437.5L818.8 443.8L817.5 450.0M820.0 428.8L823.8 427.0L825.5 430.5L823.0 433.8L820.0 432.5L820.0 428.8M852.5 415.0L855.0 413.8L856.2 418.8L853.8 422.5L852.0 418.8L852.5 415.0M852.5 435.0L856.2 433.8L857.5 440.0L856.2 447.5L860.0 452.5L857.5 455.0L853.8 450.0L852.0 442.5L852.5 435.0M860.0 457.5L866.2 460.0L868.8 465.0L866.2 470.0L861.2 468.8L858.8 463.8L860.0 457.5M738.8 461.2L742.0 460.0L743.8 465.0L742.0 469.5L739.0 468.0L738.8 461.2"/>
<path stroke="#8c8c8c" d="M495.1 284.1L499.0 282.5L503.7 281.8L507.6 285.7L506.8 290.4L509.2 295.1L512.3 299.8L514.7 305.3L517.0 310.0L518.6 314.7L515.5 317.0L510.0 317.8L505.3 319.4L501.3 320.2L499.8 317.0L503.7 314.7L500.6 311.5L501.3 307.6L499.0 303.7L499.8 299.0L496.6 295.1L497.4 290.4L495.1 287.2L495.1 284.1M485.7 303.7L488.8 300.6L493.5 299.8L496.6 301.3L497.4 306.1L496.6 310.8L493.5 314.7L488.8 316.2L485.7 313.9L484.9 309.2L485.7 303.7M537.4 301.3L534.3 306.8L531.9 310.0L528.8 312.3L525.6 315.5L523.3 318.6L520.2 320.2L517.0 322.5L513.1 324.1L510.0 324.9L506.8 327.2L503.7 329.6L502.9 331.9L505.3 333.5L509.2 334.3L511.1 337.4L512.3 341.3L511.5 345.2L510.4 349.2L506.1 349.9L500.6 349.9L495.1 350.3L490.4 350.7L488.5 353.1L488.8 357.8L488.0 362.5L487.2 367.2L488.0 371.9L491.2 374.2L495.1 373.4L498.2 376.6L500.6 375.3L503.7 373.4L508.4 371.9L512.3 370.3L515.5 367.2L517.8 363.3L520.2 359.3L522.5 356.2L523.0 353.1L525.6 351.5L528.8 351.5L531.9 349.9L534.3 348.4L536.6 347.6L539.7 349.9L542.9 353.1L546.0 357.0L549.2 360.9L552.3 364.8L555.4 368.0L557.8 370.3L560.1 371.9L560.9 369.5L559.3 366.4L561.7 364.8L564.0 362.5L562.5 360.1L559.3 357.8L556.2 354.6L553.9 350.7L551.5 346.8L550.7 342.9L553.1 341.3L555.4 342.9L557.8 346.8L560.9 350.7L564.0 354.6L567.2 358.6L569.5 361.7L571.9 364.0L572.7 368.0L574.2 371.9L576.6 375.0L578.9 373.4L578.2 369.5L580.5 368.0L582.9 366.4L585.2 364.0L586.8 361.7L588.3 359.3L591.5 357.8L593.8 357.0L595.4 353.1L596.2 348.4L597.7 343.7L600.1 339.7L603.2 337.4L607.9 336.6L611.8 338.2L614.2 341.3L617.3 343.7L621.3 342.9L624.4 339.7L626.7 335.8L625.2 331.9L622.8 329.6M593.8 357.0L598.5 357.8L604.8 356.2L611.1 354.6L617.3 355.4L623.6 357.0L630.0 357.8M593.8 357.0L590.7 360.1L589.1 362.5L589.9 366.4L591.5 371.1L593.8 374.2L597.7 375.0L603.2 373.4L607.9 374.2L612.6 375.0L617.3 372.7L622.0 371.9M539.0 353.9L540.5 353.1L541.3 357.8L540.5 362.5L538.7 364.0L537.7 360.1L538.2 356.2L539.0 353.9M554.6 371.9L558.6 372.7L560.9 373.4L559.3 375.8L555.4 375.0L553.1 373.4L554.6 371.9"/>
<path stroke="#848484" d="M542.5 375.0L538.8 373.0L532.5 373.8L525.0 374.5L515.0 375.5L505.0 376.2L497.5 377.5L493.8 382.5L488.8 388.8L483.8 395.0L480.0 401.2L475.0 407.5L471.2 415.0L468.0 422.5L467.0 430.0L467.5 437.5L467.0 445.0L468.8 450.0L471.2 453.8L476.2 456.2L480.0 461.2L485.0 466.2L490.0 470.0L493.8 472.5L500.0 471.2L506.2 470.0L511.2 471.2L515.0 468.8L520.0 470.0L526.2 472.5L531.2 475.0L536.2 480.0L538.8 485.0L540.0 490.0L543.8 495.0L546.2 500.0L547.5 506.2L550.0 512.5L551.2 518.8L548.8 525.0L547.5 532.5L548.8 540.0L551.2 547.5L553.8 555.0L556.2 562.5L558.8 571.0M542.5 375.0L541.2 378.8L538.8 382.5L542.5 384.5L547.5 385.5L555.0 388.8L562.5 387.5L570.0 390.0L577.5 387.5L585.0 383.8L592.5 382.5L600.0 380.0L607.5 381.2L612.5 385.0L615.0 392.5L612.5 397.5L615.0 403.8L618.8 411.2L622.5 418.8L626.2 425.0L630.0 432.5L633.8 440.0L637.5 446.2L640.0 451.2L635.0 453.8L632.5 456.2L637.5 457.5L645.0 456.2L652.5 453.8L657.5 452.5L656.2 458.8L652.5 466.2L647.5 473.8L641.2 481.2L635.0 488.8L630.0 496.2L627.0 503.8L626.2 511.2L627.5 517.5L628.8 523.8L627.0 530.0L623.8 536.2L618.8 541.2L613.8 545.0L611.2 550.0L612.5 557.5L610.0 563.8L605.0 567.5L602.5 571.0M653.8 521.2L656.2 525.0L655.5 532.5L653.8 540.0L651.2 547.5L648.8 555.0L645.0 560.0L640.0 560.5L637.5 556.2L637.0 548.8L638.8 541.2L640.0 533.8L643.8 530.0L648.8 526.2L651.2 522.5L653.8 521.2M615.0 392.5L617.5 385.0L618.0 377.5L618.8 370.0M615.0 392.5L618.0 395.0L621.2 402.5L625.0 410.0L628.8 417.5L632.5 425.0L636.2 432.5L640.0 440.0L642.5 446.2L647.5 445.0L655.0 441.2L662.5 437.5L670.0 432.5L677.5 426.2L681.2 420.0L678.8 413.8L673.8 411.2L670.0 412.5L666.2 408.8L662.5 405.0L658.8 400.0L655.0 395.0L652.5 390.0L650.0 385.0L647.5 381.2L652.5 382.5L658.8 386.2L665.0 391.2L671.2 395.0L677.5 396.2L685.0 397.5L692.5 398.8L696.0 399.5M559.0 571.0L561.2 573.8L563.8 581.2L565.0 587.5L568.8 590.5L576.2 588.8L583.8 587.5L590.0 585.0L596.2 580.0L601.2 573.8L603.0 570.0"/>
<path stroke="#808080" d="M910.0 494.5L910.0 511.2"/>
<path stroke="#7c7c9c" d="M860.5 362.5L868.0 358.8L875.5 356.2L884.2 353.8M868.0 370.0L877.5 368.8M853.0 311.2L860.5 310.0L866.8 313.8L870.5 321.2L875.5 327.5L883.0 330.0L888.0 333.8L890.5 338.8L885.5 343.8L883.0 350.0L884.2 353.8M890.5 338.8L898.0 327.5L904.2 320.0L908.0 312.5"/>
<path stroke="#787878" d="M645.0 330.0L648.8 322.5L656.2 317.5L666.2 321.2L673.8 320.0L681.2 317.5L686.2 308.8L695.0 303.8L705.0 301.2L713.8 300.0L718.8 305.0L725.0 307.5L730.0 312.5M755.0 335.0L748.8 337.5L743.8 342.5L740.0 350.0L737.5 355.0L730.0 353.8L720.0 355.0L712.5 356.2L707.5 358.8L701.2 358.8L697.5 352.5L692.5 350.0L687.5 351.2L681.2 346.2L676.2 343.8L671.2 346.2L671.2 353.8L670.0 358.8L663.8 357.5L657.5 353.8M638.8 367.5L645.0 370.0L651.2 371.2M665.0 365.0L670.0 370.0L676.2 371.2L683.8 376.2L686.2 383.8L685.0 391.2L687.5 398.8L692.5 402.5L688.8 408.8M648.8 390.0L645.0 383.8L641.2 376.2L638.8 367.5M686.2 383.8L692.5 380.0L700.0 375.0L707.5 373.8L715.0 371.2L720.0 373.8L726.2 372.5L730.0 376.2L723.8 378.8L718.8 382.5L716.2 388.8L711.2 393.8L705.0 398.8L697.5 400.0L692.5 402.5M707.5 417.5L711.2 412.5L715.0 406.2L720.0 400.0L723.8 393.8L727.5 388.8L730.0 383.8L733.8 380.0L730.0 376.2M733.8 380.0L737.5 378.8L738.8 385.0L736.2 390.0L740.0 396.2L745.0 400.0L752.5 403.8L760.0 406.2L763.8 405.0L770.0 403.8L775.0 402.5L780.0 401.2L785.0 400.0L788.8 403.8L786.2 407.5L782.5 408.8L776.2 407.5L770.0 408.8L766.2 406.2M740.0 396.2L745.0 397.5L752.5 401.2L760.0 403.8L761.2 407.5M755.0 335.0L762.5 331.2L770.0 337.5L780.0 345.0L792.5 350.0L805.0 357.0L817.5 353.8L827.5 348.8L830.0 342.5L840.0 337.5L850.0 336.2L846.2 331.2L840.0 327.5L845.0 320.0L852.5 312.5L860.0 310.0L866.2 313.8L870.0 320.0L872.5 327.5L876.0 330.0M737.5 355.0L732.5 361.2L727.5 365.0L730.0 370.0L726.2 372.5M788.8 403.8L792.5 407.5L791.2 415.0L795.0 420.0L800.0 422.5L796.2 427.5L792.5 430.0L790.0 430.0M795.0 420.0L802.5 420.0L808.8 418.8L813.8 420.0M800.0 422.5L805.0 428.8L810.0 433.8L812.5 440.0L815.0 445.0M792.5 430.0L795.0 437.5L800.0 440.0L806.2 437.5L810.0 433.8M620.0 376.2L626.2 377.5L632.5 375.0L638.8 367.5M632.5 375.0L630.0 382.5L625.0 390.0L631.2 395.0L640.0 400.0L646.2 401.2L648.8 390.0M630.0 357.8L635.0 358.8L641.2 356.2L645.0 351.2M641.2 356.2L640.0 362.5L638.8 367.5M670.0 358.8L677.5 361.2L682.5 365.0L690.0 370.0L695.0 375.0L700.0 375.0M701.2 358.8L705.0 365.0L710.0 362.5L713.8 358.8L718.8 360.0L715.0 365.0L710.0 367.5L707.5 373.8M713.8 358.8L720.0 355.0M718.8 360.0L725.0 362.5L732.5 361.2M715.0 365.0L720.0 367.5L726.2 366.2L730.0 370.0"/>
<path stroke="#777" d="M948.9 503.1L951.0 505.2M953.8 505.9L956.7 508.0M960.2 508.0L963.0 510.1M964.4 512.2L967.2 513.6M965.8 515.0L970.0 517.1M982.0 528.4L984.8 532.6M988.3 538.9L989.7 541.0M975.6 545.2L983.4 550.9M1012.9 537.5L1019.2 533.3M891.3 503.1L892.4 505.2M882.5 507.3L883.9 508.7"/>
<path stroke="#707070" d="M573.8 216.2L578.8 213.8L582.5 218.8L580.0 225.0L581.2 232.5L582.5 240.0M596.2 211.2L600.0 210.0L602.5 215.0L598.8 220.0L596.2 227.5L597.5 236.2L600.0 245.0L602.5 252.5L605.0 260.0M587.5 210.0L590.0 215.0L593.8 221.2L596.2 227.5"/>
<path stroke="#5c5c5c" d="M510.4 349.2L515.5 351.5L523.0 353.1M490.4 350.7L493.5 354.6L492.7 360.9L491.9 367.2L491.2 374.2M525.6 315.5L528.8 319.4L532.7 322.5L535.8 325.6L537.4 330.3L535.8 334.3L533.5 337.4L534.3 342.1L535.0 346.8L536.6 347.6M534.3 306.8L532.7 312.3L531.9 317.0L532.7 322.5M537.4 330.3L542.1 331.9L546.8 332.7L550.7 331.9L551.5 335.8L555.4 337.4M555.4 311.5L555.4 317.0L555.4 320.2L551.5 322.5L549.9 325.6L551.5 329.6L550.7 331.9M555.4 320.2L559.3 323.3L564.0 324.9L568.0 327.2L564.0 330.3L559.3 331.9L555.4 332.7L551.5 329.6M555.4 311.5L564.0 312.3L571.9 311.5L580.5 310.8L582.1 315.5L580.5 320.2L582.1 324.9L579.7 328.8L573.4 328.0L568.0 327.2M537.4 330.3L540.5 337.4L546.8 339.0L553.1 339.0L557.8 339.7L561.7 337.4L562.5 333.5L559.3 331.9M533.5 337.4L537.4 335.8L540.5 337.4L539.0 340.5L534.3 342.1M539.0 340.5L543.7 341.3L548.4 340.5L553.1 341.3M561.7 337.4L564.0 342.1L570.3 343.7L576.6 340.5L579.7 335.8L576.6 332.7L570.3 331.9L564.0 330.3M576.6 332.7L579.7 328.8M579.7 335.8L584.4 332.7L590.7 331.9L594.6 335.8L595.4 342.1L597.7 343.7M576.6 340.5L578.2 345.2L582.9 348.4L589.1 348.4L593.8 346.8L596.2 348.4M582.9 348.4L582.1 353.1L583.6 357.8L588.3 359.3M570.3 343.7L571.9 348.4L575.0 353.1L578.2 357.0L579.7 360.9L582.9 362.5L586.8 361.7M555.4 342.9L559.3 343.7L564.0 342.1M560.9 350.7L565.6 348.4L571.9 348.4M582.1 315.5L589.1 317.0L597.0 316.2L603.2 315.5L604.8 311.5L601.7 307.6L600.1 301.3L598.5 298.2M580.5 310.8L582.9 306.1L586.0 301.3L592.3 299.8L598.5 298.2M603.2 315.5L609.5 314.7L614.2 317.8L618.1 322.5L622.8 324.1L626.7 328.0L624.4 331.9M594.6 335.8L598.5 336.6L600.1 339.7M471.2 415.0L480.0 413.8L480.0 407.5L488.8 406.2L490.0 400.0L497.5 395.0L503.8 390.0L508.8 387.5L508.8 381.2L505.0 376.2M468.0 422.5L477.5 422.5L478.0 415.0L480.0 413.8M477.5 422.5L478.8 442.5L497.5 443.8L496.2 428.8L497.5 413.8L490.0 407.5L505.0 417.5L520.0 427.5M467.0 445.0L472.5 445.0L477.5 447.5L480.0 442.5M468.8 450.0L475.0 450.0L481.2 453.8L487.5 452.5L490.0 456.2L493.8 460.0L493.8 466.2L500.0 465.0L500.0 471.2M506.2 470.0L506.2 462.5L505.0 456.2L497.5 452.5L497.5 443.8M487.5 452.5L490.0 447.5L497.5 452.5M538.8 382.5L535.0 390.0L536.2 397.5L530.0 405.0M508.8 387.5L520.0 393.8L530.0 405.0M584.2 383.8L584.2 423.0L626.2 423.0M630.0 432.5L626.2 440.0L625.0 447.5L630.0 450.0L632.5 456.2M637.5 457.5L640.0 463.8L647.5 467.5L652.5 466.2M623.8 472.5L630.0 475.0L637.5 477.5L641.2 481.2M637.5 477.5L636.2 488.8M615.0 490.0L622.5 495.0L627.5 500.0M612.5 475.0L615.0 482.5L615.0 490.0L610.0 490.0M615.0 520.0L622.5 520.0L628.8 517.5M557.5 506.2L562.5 505.0L565.0 500.0L570.0 498.8L576.2 501.2L577.5 510.0L578.8 517.5L585.0 517.5L590.0 520.0L592.5 525.0L597.5 526.2L602.5 523.8L607.5 526.2L612.5 530.0L611.2 522.5L608.8 517.5L611.2 511.2L610.0 505.0L612.5 500.0L611.2 493.8L612.5 487.5L615.0 482.5M551.2 518.8L560.0 517.5L570.0 518.8L577.5 520.0L577.5 530.0L585.0 531.2L585.0 540.0L577.5 540.0L570.0 542.5L562.5 542.5L555.0 542.5L548.8 540.0M585.0 531.2L592.5 530.0L600.0 532.5L605.0 530.0L612.5 530.0M585.0 540.0L590.0 545.0L597.5 547.5L602.5 545.0L607.5 542.5L612.5 540.0L615.0 535.0L612.5 530.0M570.0 542.5L570.0 560.0L571.2 571.0M570.0 552.5L580.0 552.5L585.0 545.0M602.5 545.0L605.0 552.5L610.0 556.2L612.5 557.5M612.5 520.0L615.0 527.5L616.2 535.0M580.0 552.5L587.5 557.5L595.0 556.2L602.5 557.5L605.0 565.0L603.8 571.0M547.5 506.2L555.0 506.2L557.5 500.0L562.5 497.5L565.0 500.0M550.0 512.5L557.5 510.0L557.5 506.2M623.8 472.5L620.0 468.8L615.0 470.0L612.5 475.0M642.5 446.2L648.8 437.5L657.5 433.8L665.0 431.2L670.0 432.5M647.5 381.2L643.8 387.5L637.5 390.0L630.0 385.0L623.8 381.2L618.0 377.5M666.2 408.8L665.0 413.8L657.5 417.5L648.8 420.0L642.5 426.2L636.2 432.5M590.0 572.5L593.8 570.0L597.5 573.0L593.8 576.2L590.0 572.5M560.0 570.0L565.0 571.2L570.0 566.2L575.0 561.2M541.7 401.3L542.2 413.0L535.9 429.9L524.2 432.0M558.6 432.0L557.5 442.6L551.7 458.4L550.7 463.7M581.3 432.0L582.4 442.6L583.4 454.2L587.7 458.4L598.2 457.4M540.1 467.9L551.7 462.7L564.4 458.4L575.0 457.4L583.4 462.7L591.9 469.0M542.2 413.0L558.6 432.0L581.3 432.0L584.3 423.5"/>
</g>
<g opacity=".999">
<circle cx="243.7" cy="322.0" r="76.5" fill="#fff" fill-opacity=".72"/>
<path d="M243.70 246.30A75.7 75.7 0 0 1 245.95 246.33L245.41 264.43A57.6 57.6 0 0 0 243.70 264.40Z" fill="#e8837a" stroke="#fff6e6" stroke-width=".9"/>
<path d="M245.95 246.33A75.7 75.7 0 0 1 253.58 246.95L251.22 264.89A57.6 57.6 0 0 0 245.41 264.43Z" fill="#3a18a0" stroke="#fff6e6" stroke-width=".9"/>
<path d="M253.58 246.95A75.7 75.7 0 0 1 260.60 248.21L256.56 265.85A57.6 57.6 0 0 0 251.22 264.89Z" fill="#b35fb5" stroke="#fff6e6" stroke-width=".9"/>
<path d="M260.60 248.21A75.7 75.7 0 0 1 271.44 251.57L264.81 268.41A57.6 57.6 0 0 0 256.56 265.85Z" fill="#e39a2b" stroke="#fff6e6" stroke-width=".9"/>
<path d="M271.44 251.57A75.7 75.7 0 0 1 242.64 397.69L242.90 379.59A57.6 57.6 0 0 0 264.81 268.41Z" fill="#47a24e" stroke="#fff6e6" stroke-width=".9"/>
<path d="M242.64 397.69A75.7 75.7 0 0 1 243.70 246.30L243.70 264.40A57.6 57.6 0 0 0 242.90 379.59Z" fill="#88502a" stroke="#fff6e6" stroke-width=".9"/>
<text transform="translate(217.70 305.20) scale(0.6786 1)" font-size="19.86" font-weight="700" fill="#111" stroke="#111" stroke-width=".7">NORTH</text>
<text transform="translate(211.40 329.70) scale(0.6964 1)" font-size="19.86" font-weight="700" fill="#111" stroke="#111" stroke-width=".7">AMERICA</text>
<text transform="translate(218.00 353.80) scale(0.6266 1)" font-size="19.57" font-weight="700" fill="#111" stroke="#111" stroke-width=".7">112</text>
<text transform="translate(242.60 353.80) scale(0.7051 1)" font-size="19.57" fill="#111" stroke="#111" stroke-width=".2">Mha</text>
<circle cx="788.7" cy="265.6" r="74.55" fill="#fff" fill-opacity=".72"/>
<path d="M788.70 191.85A73.75 73.75 0 0 1 792.17 191.93L791.35 209.36A56.3 56.3 0 0 0 788.70 209.30Z" fill="#b35fb5" stroke="#fff6e6" stroke-width=".9"/>
<path d="M792.17 191.93A73.75 73.75 0 0 1 797.18 192.34L795.17 209.67A56.3 56.3 0 0 0 791.35 209.36Z" fill="#e8837a" stroke="#fff6e6" stroke-width=".9"/>
<path d="M797.18 192.34A73.75 73.75 0 0 1 804.66 193.60L800.89 210.63A56.3 56.3 0 0 0 795.17 209.67Z" fill="#eedd17" stroke="#fff6e6" stroke-width=".9"/>
<path d="M804.66 193.60A73.75 73.75 0 0 1 813.92 196.30L807.96 212.70A56.3 56.3 0 0 0 800.89 210.63Z" fill="#3a18a0" stroke="#fff6e6" stroke-width=".9"/>
<path d="M813.92 196.30A73.75 73.75 0 0 1 823.66 200.66L815.39 216.03A56.3 56.3 0 0 0 807.96 212.70Z" fill="#e39a2b" stroke="#fff6e6" stroke-width=".9"/>
<path d="M823.66 200.66A73.75 73.75 0 0 1 841.75 316.83L829.20 304.71A56.3 56.3 0 0 0 815.39 216.03Z" fill="#47a24e" stroke="#fff6e6" stroke-width=".9"/>
<path d="M841.75 316.83A73.75 73.75 0 1 1 788.70 191.85L788.70 209.30A56.3 56.3 0 1 0 829.20 304.71Z" fill="#88502a" stroke="#fff6e6" stroke-width=".9"/>
<text transform="translate(772.20 259.70) scale(0.7064 1)" font-size="19.13" font-weight="700" fill="#111" stroke="#111" stroke-width=".7">ASIA</text>
<text transform="translate(761.70 283.70) scale(0.6761 1)" font-size="19.13" font-weight="700" fill="#111" stroke="#111" stroke-width=".7">107</text>
<text transform="translate(788.60 283.70) scale(0.7157 1)" font-size="19.13" fill="#111" stroke="#111" stroke-width=".2">Mha</text>
<circle cx="349.0" cy="560.0" r="81.2" fill="#fff" fill-opacity=".72"/>
<path d="M349.00 479.60A80.4 80.4 0 0 1 350.82 479.62L350.40 498.42A61.6 61.6 0 0 0 349.00 498.40Z" fill="#b35fb5" stroke="#fff6e6" stroke-width=".9"/>
<path d="M350.82 479.62A80.4 80.4 0 0 1 354.05 479.76L352.87 498.52A61.6 61.6 0 0 0 350.40 498.42Z" fill="#e8837a" stroke="#fff6e6" stroke-width=".9"/>
<path d="M354.05 479.76A80.4 80.4 0 0 1 364.07 481.02L360.54 499.49A61.6 61.6 0 0 0 352.87 498.52Z" fill="#3a18a0" stroke="#fff6e6" stroke-width=".9"/>
<path d="M364.07 481.02A80.4 80.4 0 0 1 379.38 485.56L372.27 502.97A61.6 61.6 0 0 0 360.54 499.49Z" fill="#eedd17" stroke="#fff6e6" stroke-width=".9"/>
<path d="M379.38 485.56A80.4 80.4 0 0 1 412.27 510.39L397.48 521.99A61.6 61.6 0 0 0 372.27 502.97Z" fill="#47a24e" stroke="#fff6e6" stroke-width=".9"/>
<path d="M412.27 510.39A80.4 80.4 0 0 1 428.85 569.38L410.18 567.19A61.6 61.6 0 0 0 397.48 521.99Z" fill="#88502a" stroke="#fff6e6" stroke-width=".9"/>
<path d="M428.85 569.38A80.4 80.4 0 1 1 349.00 479.60L349.00 498.40A61.6 61.6 0 1 0 410.18 567.19Z" fill="#e39a2b" stroke="#fff6e6" stroke-width=".9"/>
<text transform="translate(326.40 542.00) scale(0.7042 1)" font-size="20.43" font-weight="700" fill="#111" stroke="#111" stroke-width=".7">LATIN</text>
<text transform="translate(314.30 568.10) scale(0.7154 1)" font-size="20.43" font-weight="700" fill="#111" stroke="#111" stroke-width=".7">AMERICA</text>
<text transform="translate(319.00 594.00) scale(0.7112 1)" font-size="20.29" font-weight="700" fill="#111" stroke="#111" stroke-width=".7">127</text>
<text transform="translate(348.60 594.00) scale(0.7229 1)" font-size="20.29" fill="#111" stroke="#111" stroke-width=".2">Mha</text>
<circle cx="566.3" cy="435.9" r="58.9" fill="#fff" fill-opacity=".72"/>
<path d="M566.30 377.80A58.1 58.1 0 0 1 569.75 377.90L568.92 391.88A44.1 44.1 0 0 0 566.30 391.80Z" fill="#e8837a" stroke="#fff6e6" stroke-width=".9"/>
<path d="M569.75 377.90A58.1 58.1 0 0 1 572.37 378.12L570.91 392.04A44.1 44.1 0 0 0 568.92 391.88Z" fill="#b35fb5" stroke="#fff6e6" stroke-width=".9"/>
<path d="M572.37 378.12A58.1 58.1 0 0 1 579.47 379.31L576.30 392.95A44.1 44.1 0 0 0 570.91 392.04Z" fill="#88502a" stroke="#fff6e6" stroke-width=".9"/>
<path d="M579.47 379.31A58.1 58.1 0 0 1 593.93 384.79L587.28 397.11A44.1 44.1 0 0 0 576.30 392.95Z" fill="#47a24e" stroke="#fff6e6" stroke-width=".9"/>
<path d="M593.93 384.79A58.1 58.1 0 0 1 563.77 493.94L564.38 479.96A44.1 44.1 0 0 0 587.28 397.11Z" fill="#e39a2b" stroke="#fff6e6" stroke-width=".9"/>
<path d="M563.77 493.94A58.1 58.1 0 0 1 566.30 377.80L566.30 391.80A44.1 44.1 0 0 0 564.38 479.96Z" fill="#eedd17" stroke="#fff6e6" stroke-width=".9"/>
<text transform="translate(540.60 431.50) scale(0.6970 1)" font-size="19.42" font-weight="700" fill="#111" stroke="#111" stroke-width=".7">AFRICA</text>
<text transform="translate(540.90 455.80) scale(0.8072 1)" font-size="19.42" font-weight="700" fill="#111" stroke="#111" stroke-width=".7">66</text>
<text transform="translate(564.20 455.80) scale(0.6971 1)" font-size="19.42" fill="#111" stroke="#111" stroke-width=".2">Mha</text>
<circle cx="566" cy="273.4" r="38.3" fill="#fff" fill-opacity=".72"/>
<path d="M566.00 235.90A37.5 37.5 0 0 1 567.31 235.92L567.01 244.42A29 29 0 0 0 566.00 244.40Z" fill="#eedd17" stroke="#fff6e6" stroke-width=".9"/>
<path d="M567.31 235.92A37.5 37.5 0 0 1 569.53 236.07L568.73 244.53A29 29 0 0 0 567.01 244.42Z" fill="#e8837a" stroke="#fff6e6" stroke-width=".9"/>
<path d="M569.53 236.07A37.5 37.5 0 0 1 571.87 236.36L570.54 244.76A29 29 0 0 0 568.73 244.53Z" fill="#b35fb5" stroke="#fff6e6" stroke-width=".9"/>
<path d="M571.87 236.36A37.5 37.5 0 0 1 586.15 241.77L581.58 248.94A29 29 0 0 0 570.54 244.76Z" fill="#88502a" stroke="#fff6e6" stroke-width=".9"/>
<path d="M586.15 241.77A37.5 37.5 0 1 1 566.00 235.90L566.00 244.40A29 29 0 1 0 581.58 248.94Z" fill="#47a24e" stroke="#fff6e6" stroke-width=".9"/>
<text transform="translate(544.90 270.70) scale(0.6821 1)" font-size="14.78" font-weight="700" fill="#111" stroke="#111" stroke-width=".7">EUROPE</text>
<text transform="translate(547.30 289.40) scale(0.7940 1)" font-size="14.64" font-weight="700" fill="#111" stroke="#111" stroke-width=".7">28</text>
<text transform="translate(563.70 289.40) scale(0.7147 1)" font-size="14.64" fill="#111" stroke="#111" stroke-width=".2">Mha</text>
<circle cx="796.5" cy="500.4" r="57.3" fill="#fff" fill-opacity=".72"/>
<path d="M796.50 443.90A56.5 56.5 0 0 1 799.46 443.98L798.77 457.06A43.4 43.4 0 0 0 796.50 457.00Z" fill="#b35fb5" stroke="#fff6e6" stroke-width=".9"/>
<path d="M799.46 443.98A56.5 56.5 0 0 1 801.42 444.11L800.28 457.17A43.4 43.4 0 0 0 798.77 457.06Z" fill="#3a18a0" stroke="#fff6e6" stroke-width=".9"/>
<path d="M801.42 444.11A56.5 56.5 0 0 1 807.86 445.05L805.23 457.89A43.4 43.4 0 0 0 800.28 457.17Z" fill="#e8837a" stroke="#fff6e6" stroke-width=".9"/>
<path d="M807.86 445.05A56.5 56.5 0 0 1 820.38 449.19L814.84 461.07A43.4 43.4 0 0 0 805.23 457.89Z" fill="#88502a" stroke="#fff6e6" stroke-width=".9"/>
<path d="M820.38 449.19A56.5 56.5 0 0 1 848.92 479.33L836.77 484.21A43.4 43.4 0 0 0 814.84 461.07Z" fill="#47a24e" stroke="#fff6e6" stroke-width=".9"/>
<path d="M848.92 479.33A56.5 56.5 0 0 1 844.52 530.17L833.39 523.27A43.4 43.4 0 0 0 836.77 484.21Z" fill="#eedd17" stroke="#fff6e6" stroke-width=".9"/>
<path d="M844.52 530.17A56.5 56.5 0 1 1 796.50 443.90L796.50 457.00A43.4 43.4 0 1 0 833.39 523.27Z" fill="#e39a2b" stroke="#fff6e6" stroke-width=".9"/>
<text transform="translate(763.90 487.60) scale(0.7434 1)" font-size="13.77" font-weight="700" fill="#111" stroke="#111" stroke-width=".7">SOUTHEAST</text>
<text transform="translate(784.40 506.00) scale(0.7506 1)" font-size="13.77" font-weight="700" fill="#111" stroke="#111" stroke-width=".7">ASIA</text>
<text transform="translate(777.90 524.50) scale(0.8742 1)" font-size="13.91" font-weight="700" fill="#111" stroke="#111" stroke-width=".7">63</text>
<text transform="translate(795.30 524.50) scale(0.7667 1)" font-size="13.91" fill="#111" stroke="#111" stroke-width=".2">Mha</text>
<circle cx="911.3" cy="660.5" r="26.5" fill="#fff" fill-opacity=".72"/>
<path d="M911.30 634.80A25.7 25.7 0 0 1 913.09 634.86L912.71 640.35A20.2 20.2 0 0 0 911.30 640.30Z" fill="#b35fb5" stroke="#fff6e6" stroke-width=".9"/>
<path d="M913.09 634.86A25.7 25.7 0 0 1 916.16 635.26L915.12 640.66A20.2 20.2 0 0 0 912.71 640.35Z" fill="#3a18a0" stroke="#fff6e6" stroke-width=".9"/>
<path d="M916.16 635.26A25.7 25.7 0 0 1 923.01 637.62L920.50 642.52A20.2 20.2 0 0 0 915.12 640.66Z" fill="#e39a2b" stroke="#fff6e6" stroke-width=".9"/>
<path d="M923.01 637.62A25.7 25.7 0 0 1 932.45 645.91L927.93 649.03A20.2 20.2 0 0 0 920.50 642.52Z" fill="#eedd17" stroke="#fff6e6" stroke-width=".9"/>
<path d="M932.45 645.91A25.7 25.7 0 0 1 921.92 683.90L919.64 678.90A20.2 20.2 0 0 0 927.93 649.03Z" fill="#47a24e" stroke="#fff6e6" stroke-width=".9"/>
<path d="M921.92 683.90A25.7 25.7 0 1 1 911.30 634.80L911.30 640.30A20.2 20.2 0 1 0 919.64 678.90Z" fill="#88502a" stroke="#fff6e6" stroke-width=".9"/>
<text transform="translate(894.20 658.70) scale(0.6917 1)" font-size="10.72" font-weight="700" fill="#111" stroke="#111" stroke-width=".7">OCEANIA</text>
<text transform="translate(898.50 671.80) scale(0.7051 1)" font-size="9.71" font-weight="700" fill="#111" stroke="#111" stroke-width=".7">13</text>
<text transform="translate(908.70 671.80) scale(0.7922 1)" font-size="9.71" fill="#111" stroke="#111" stroke-width=".2">Mha</text>
<g stroke="#8e908a" stroke-linejoin="round" stroke-linecap="round">
<path d="M963.3 693.8L965.2 690.0L968.0 688.1L970.9 687.2L973.7 684.4L976.5 683.4L980.3 684.4L984.1 684.8L987.9 685.3L991.7 686.2L994.5 688.6L995.9 691.9L995.4 694.8L993.5 696.6L994.5 699.5L992.6 703.3L993.1 707.0L990.7 709.9L989.3 712.7L986.9 713.7L984.1 715.5L981.3 717.4L978.9 716.5L978.4 712.7L977.5 708.9L976.5 705.1L975.6 701.4L971.8 700.4L968.0 700.4L965.2 698.5L963.3 696.6ZM969.0 679.6L970.4 675.8L973.7 673.0L976.5 670.2L980.3 668.3L984.1 669.2L987.9 671.1L991.7 674.0L995.0 676.8L998.3 680.6L1000.2 684.4L1000.2 688.6L995.9 691.9L994.5 688.1L991.7 686.2L987.9 685.1L984.1 684.6L980.3 684.2L976.5 683.2L973.7 682.9L970.9 682.0ZM965.2 670.2L968.0 668.3L971.8 667.8L969.9 671.1L967.1 672.5ZM943.5 687.2L944.9 682.5L947.2 678.7L950.1 675.8L953.8 673.5L957.6 672.1L956.7 674.9L954.3 676.8L956.2 678.2L952.9 679.6L950.1 681.5L948.2 684.4L946.3 688.1L944.4 690.0ZM943.9 698.5L946.3 699.5L949.1 702.3L952.9 704.2L954.8 706.1L953.8 708.9L952.4 710.8L950.1 709.9L947.7 707.0L945.8 703.3L943.9 700.4ZM991.7 708.9L993.5 706.1L994.0 708.9L992.6 711.8Z" fill="#d2d2ce" stroke-width="1.3"/>
<path d="M965.2 696.6L971.8 697.6L977.5 698.5M971.8 687.2L972.8 691.9L973.7 696.6L973.7 700.4M977.5 683.9L978.4 688.1L978.9 693.8L979.4 698.5L978.4 703.3M982.7 684.8L983.1 689.1L984.1 693.8L985.0 698.5L985.5 703.3L984.1 708.9L984.1 715.5M986.0 685.3L986.9 688.1L989.8 693.8L990.7 698.5L990.7 703.3L989.8 708.9M990.7 686.2L992.6 690.0L994.0 693.8L994.5 699.5M976.5 687.2L981.3 687.7L986.9 688.1L992.6 690.0M977.5 708.9L981.3 712.7L986.9 711.8M966.1 691.9L968.0 693.8L971.8 693.8L976.5 693.3L981.3 694.8L986.9 693.8L991.7 693.8M971.8 671.1L974.6 674.9L978.4 672.1L981.3 674.9L985.0 673.0L987.9 675.8L990.7 674.9L993.5 678.7M971.8 678.7L976.5 677.7L981.3 679.6L985.0 680.6L988.8 681.5L993.5 683.4L997.3 684.4M968.0 688.1L969.9 691.9L971.8 695.7L971.8 700.4M965.2 693.8L969.9 691.9L975.6 691.0L981.3 691.9L986.9 691.0L995.4 693.8M973.7 684.4L974.6 688.1L975.6 691.0L976.5 695.7L975.6 701.4M980.3 684.4L980.8 688.1L981.3 691.9L981.7 696.6L983.1 700.4L982.2 705.1L981.3 708.9L981.3 717.4M984.1 684.8L985.0 688.1L986.9 691.0L988.3 695.7L987.9 700.4L988.8 705.1L986.9 708.9L986.9 713.7M987.9 685.3L989.8 689.1L991.7 692.9L992.6 697.6L992.6 703.3M968.0 697.6L971.8 695.7L976.5 695.7L981.7 696.6L988.3 695.7L993.5 696.6M976.5 705.1L982.2 705.1L988.8 705.1L993.1 707.0M975.6 701.4L983.1 700.4L987.9 700.4L992.6 700.4M978.4 712.7L981.3 708.9L986.9 708.9L990.7 709.9M973.7 673.0L975.6 676.8L976.5 681.5M976.5 670.2L978.4 674.9L980.3 678.7L980.3 682.5M980.3 668.3L982.2 673.0L984.1 677.7L984.1 682.9M984.1 669.2L986.9 674.9L987.9 679.6L987.9 683.4M987.9 671.1L990.7 676.8L991.7 680.6L991.7 684.4M970.4 675.8L975.6 676.8L982.2 673.0L986.9 674.9L991.7 674.0M970.9 681.5L975.6 678.7L980.3 678.7L984.1 677.7L987.9 679.6L991.7 680.6L996.9 680.6" fill="none" stroke-width="1"/>
<circle cx="971.5" cy="694.4" r="29.3" fill="none" stroke-width="2.4"/>
</g>
<text transform="translate(15.20 29.00) scale(1.0018 1)" font-size="22.50" font-weight="700" fill="#111">Tree cover loss by dominant driver, 2001-2024</text>
<text transform="translate(15.70 54.80) scale(0.9989 1)" font-size="22.30" fill="#1a1a1a">Regional Results</text>
<circle cx="17.1" cy="786.1" r="8.5" fill="#e39a2b"/><text transform="translate(29.20 789.30) scale(0.7662 1)" font-size="15.94" fill="#555">Permanent agriculture</text>
<circle cx="167" cy="786.1" r="8.5" fill="#e8837a"/><text transform="translate(178.60 789.30) scale(0.7674 1)" font-size="15.94" fill="#555">Hard commodities</text>
<circle cx="294.8" cy="786.1" r="8.5" fill="#eedd17"/><text transform="translate(306.40 789.30) scale(0.7767 1)" font-size="15.94" fill="#555">Shifting cultivation</text>
<circle cx="424.4" cy="786.1" r="8.5" fill="#47a24e"/><text transform="translate(436.00 789.30) scale(0.7612 1)" font-size="15.94" fill="#555">Logging</text>
<circle cx="496.5" cy="786.1" r="8.5" fill="#88502a"/><text transform="translate(508.10 789.30) scale(0.7674 1)" font-size="15.94" fill="#555">Wildfire</text>
<circle cx="566.5" cy="786.1" r="8.5" fill="#b35fb5"/><text transform="translate(578.10 789.30) scale(0.7745 1)" font-size="15.94" fill="#555">Settlements and infrastructure</text>
<circle cx="760.4" cy="786.1" r="8.5" fill="#3a18a0"/><text transform="translate(771.30 789.30) scale(0.7707 1)" font-size="15.94" fill="#555">Other natural disturbances</text>
</g>
</svg></body></html>
